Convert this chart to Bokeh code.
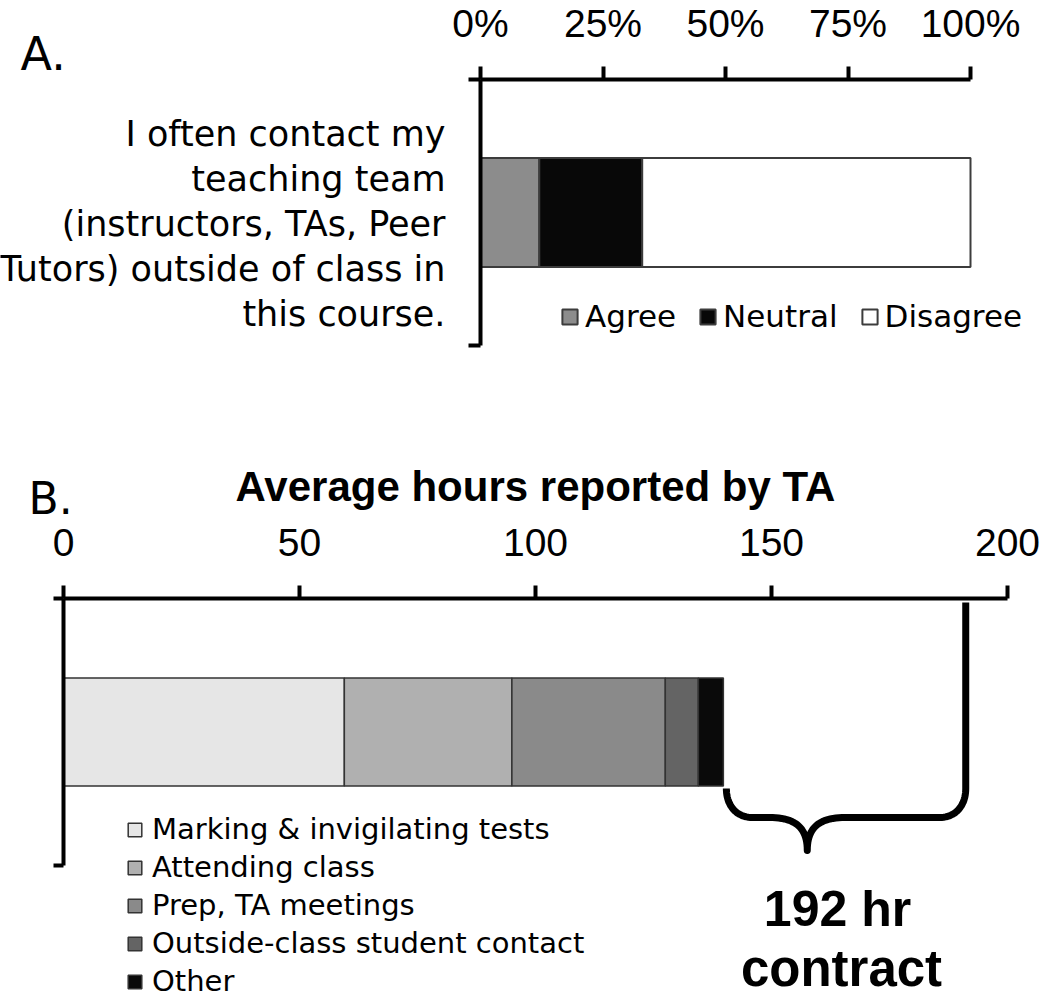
import numpy as np
from bokeh.plotting import figure
from bokeh.models import Range1d, FixedTicker, Label, Legend, LegendItem, LinearAxis
from bokeh.layouts import column
from bokeh.embed import file_html
from bokeh.resources import INLINE

# ---------------- data ----------------
a_question_lines = ["I often contact my", "teaching team", "(instructors, TAs, Peer",
                    "Tutors) outside of class in", "this course."]
a_categories = ["Agree", "Neutral", "Disagree"]
a_values = [12, 21, 67]            # percent of responses
a_ticks = [0, 25, 50, 75, 100]
a_tick_labels = ["0%", "25%", "50%", "75%", "100%"]

b_categories = ["Marking & invigilating tests", "Attending class", "Prep, TA meetings",
                "Outside-class student contact", "Other"]
b_hours = [59.5, 35.5, 32.5, 7.0, 5.3]   # average hours per TA
b_ticks = [0, 50, 100, 150, 200]
b_tick_labels = ["0", "50", "100", "150", "200"]
contract_hours = 192
b_axis_title = "Average hours reported by TA"
contract_lines = ["192 hr", "contract"]

# ---------------- styles ----------------
a_colors = ["#8c8c8c", "#080808", "#ffffff"]
b_colors = ["#e6e6e6", "#b0b0b0", "#8a8a8a", "#646464", "#0a0a0a"]
FONT = "DejaVu Sans"
TFONT = "Liberation Sans"
W = 1040
HA = 400
HB = 598


def make_axes(p, ticks, labels, x_bounds, x_fixed, tick_out_y, lw_y, standoff):
    ax = LinearAxis(fixed_location=x_fixed, bounds=x_bounds,
                    ticker=FixedTicker(ticks=ticks),
                    major_label_overrides=dict(zip(ticks, labels)))
    ax.axis_line_width = 4
    ax.major_tick_line_width = 4
    ax.major_tick_out = 13
    ax.major_tick_in = 0
    ax.minor_tick_out = 0
    ax.minor_tick_in = 0
    ax.major_label_text_font = TFONT
    ax.major_label_text_font_size = "39px"
    ax.major_label_text_color = "black"
    ax.major_label_standoff = standoff
    p.add_layout(ax, "above")
    ay = LinearAxis(fixed_location=x_bounds[0], bounds=(0, 1),
                    ticker=FixedTicker(ticks=[0, 1]),
                    major_label_overrides={0: "", 1: ""})
    ay.axis_line_width = lw_y
    ay.major_tick_line_width = lw_y
    ay.major_tick_out = tick_out_y
    ay.major_tick_in = 0
    ay.minor_tick_out = 0
    ay.minor_tick_in = 0
    ay.major_label_standoff = 0
    p.add_layout(ay, "left")
    p.grid.visible = False
    p.outline_line_color = None
    p.background_fill_color = "white"
    p.border_fill_color = "white"
    return ax, ay


# ================= Panel A =================
# plot area in reference pixels: x 480..970, y 79..345
A_L, A_R, A_T, A_B = 480, 970, 79, 345
def xa(px):
    return (px - A_L) / (A_R - A_L) * 100.0
def ya(py):
    return (A_B - py) / (A_B - A_T)

pA = figure(width=W, height=HA,
            x_range=Range1d(xa(0), xa(W)),
            y_range=Range1d(ya(HA), ya(0)),
            x_axis_location=None, y_axis_location=None, min_border=0,
            output_backend="svg", toolbar_location=None)
make_axes(pA, a_ticks, a_tick_labels, (0, 100), 1, 12, 4, 22)

a_left = np.concatenate([[0], np.cumsum(a_values)[:-1]])
a_right = np.cumsum(a_values)
a_items = []
for cat, l, r, c in zip(a_categories, a_left, a_right, a_colors):
    g = pA.hbar(y=0.5, height=0.41, left=float(l), right=float(r),
                fill_color=c, line_color="#3c3c3c", line_width=2)
    a_items.append(LegendItem(label=cat, renderers=[g]))

legA = Legend(items=a_items, orientation="horizontal", location=(560, 66),
              glyph_width=19, glyph_height=19, label_standoff=6, spacing=22,
              padding=0, margin=0, border_line_color=None, background_fill_alpha=0,
              label_text_font=FONT, label_text_font_size="31px", label_text_color="black")
pA.add_layout(legA)

for i, line in enumerate(a_question_lines):
    pA.add_layout(Label(x=xa(445), y=ya(133 + 45 * i), text=line, text_align="right",
                        text_baseline="alphabetic", text_font=FONT,
                        text_font_size="35px", text_color="black"))
pA.add_layout(Label(x=xa(20), y=ya(53), text="A.", text_align="left",
                    text_baseline="alphabetic", text_font=FONT,
                    text_font_size="46px", text_color="black"))

# ================= Panel B =================
# plot area in reference pixels: x 63..1007, y 598..865 ; figure covers ref y 400..998
B_L, B_R, B_T, B_B, B_TOP = 63, 1007, 598, 865, HA
def xb(px):
    return (px - B_L) / (B_R - B_L) * 200.0
def pxb(v):
    return B_L + v * (B_R - B_L) / 200.0
def yb(py):
    return (B_B - py) / (B_B - B_T)

pB = figure(width=W, height=HB,
            x_range=Range1d(xb(0), xb(W)),
            y_range=Range1d(yb(B_TOP + HB), yb(B_TOP)),
            x_axis_location=None, y_axis_location=None, min_border=0,
            output_backend="svg", toolbar_location=None)
axB, ayB = make_axes(pB, b_ticks, b_tick_labels, (0, 200), 1, 10, 4, 30)
axB.axis_label = b_axis_title
axB.axis_label_text_font = TFONT
axB.axis_label_text_font_style = "bold"
axB.axis_label_text_font_size = "42px"
axB.axis_label_text_color = "black"
axB.axis_label_standoff = 16

b_left = np.concatenate([[0], np.cumsum(b_hours)[:-1]])
b_right = np.cumsum(b_hours)
b_items = []
for cat, l, r, c in zip(b_categories, b_left, b_right, b_colors):
    g = pB.hbar(y=0.5, height=0.405, left=float(l), right=float(r),
                fill_color=c, line_color="#333333", line_width=1.5)
    b_items.append(LegendItem(label=cat, renderers=[g]))

legB = Legend(items=b_items, orientation="vertical", location=(126, 0),
              glyph_width=17, glyph_height=17, label_standoff=9, spacing=4,
              padding=0, margin=0, border_line_color=None, background_fill_alpha=0,
              label_text_font=FONT, label_text_font_size="29px", label_text_color="black")
pB.add_layout(legB)

# curly bracket from end of reported hours to the contract hours
def cubic(p0, p1, p2, p3, n=24):
    t = np.linspace(0, 1, n)[:, None]
    return ((1 - t) ** 3) * np.array(p0) + 3 * ((1 - t) ** 2) * t * np.array(p1) \
        + 3 * (1 - t) * t ** 2 * np.array(p2) + t ** 3 * np.array(p3)

xl = pxb(float(np.sum(b_hours))) + 3
xr = pxb(contract_hours) - 4
xt = xl + 0.338 * (xr - xl)
y_arm, y_h, y_tip, y_top, rad = 788, 817, 850, 602, 26
segs = [
    cubic((xl, y_arm), (xl, y_arm + 0.6 * (y_h - y_arm)), (xl + 0.4 * rad, y_h), (xl + rad, y_h)),
    np.array([[xt - 38, y_h]]),
    cubic((xt - 38, y_h), (xt - 12, y_h), (xt, y_h + 10), (xt, y_tip)),
    cubic((xt, y_tip), (xt, y_h + 10), (xt + 12, y_h), (xt + 38, y_h)),
    np.array([[xr - rad, y_h]]),
    cubic((xr - rad, y_h), (xr - 0.4 * rad, y_h), (xr, y_arm + 0.6 * (y_h - y_arm)), (xr, y_arm)),
    np.array([[xr, y_top]]),
]
path = np.vstack(segs)
pB.line(x=[xb(v) for v in path[:, 0]], y=[yb(v) for v in path[:, 1]],
        line_color="black", line_width=7, line_join="round", line_cap="butt")

pB.add_layout(Label(x=xb(837), y=yb(908), text=contract_lines[0], text_align="center",
                    text_baseline="alphabetic", text_font=TFONT, text_font_style="bold",
                    text_font_size="50px", text_color="black"))
pB.add_layout(Label(x=xb(841), y=yb(968), text=contract_lines[1], text_align="center",
                    text_baseline="alphabetic", text_font=TFONT, text_font_style="bold",
                    text_font_size="51px", text_color="black"))
pB.add_layout(Label(x=xb(28), y=yb(498), text="B.", text_align="left",
                    text_baseline="alphabetic", text_font=FONT,
                    text_font_size="44px", text_color="black"))

layout = column(pA, pB, spacing=0)
open("out.html", "w").write(file_html(layout, INLINE))
